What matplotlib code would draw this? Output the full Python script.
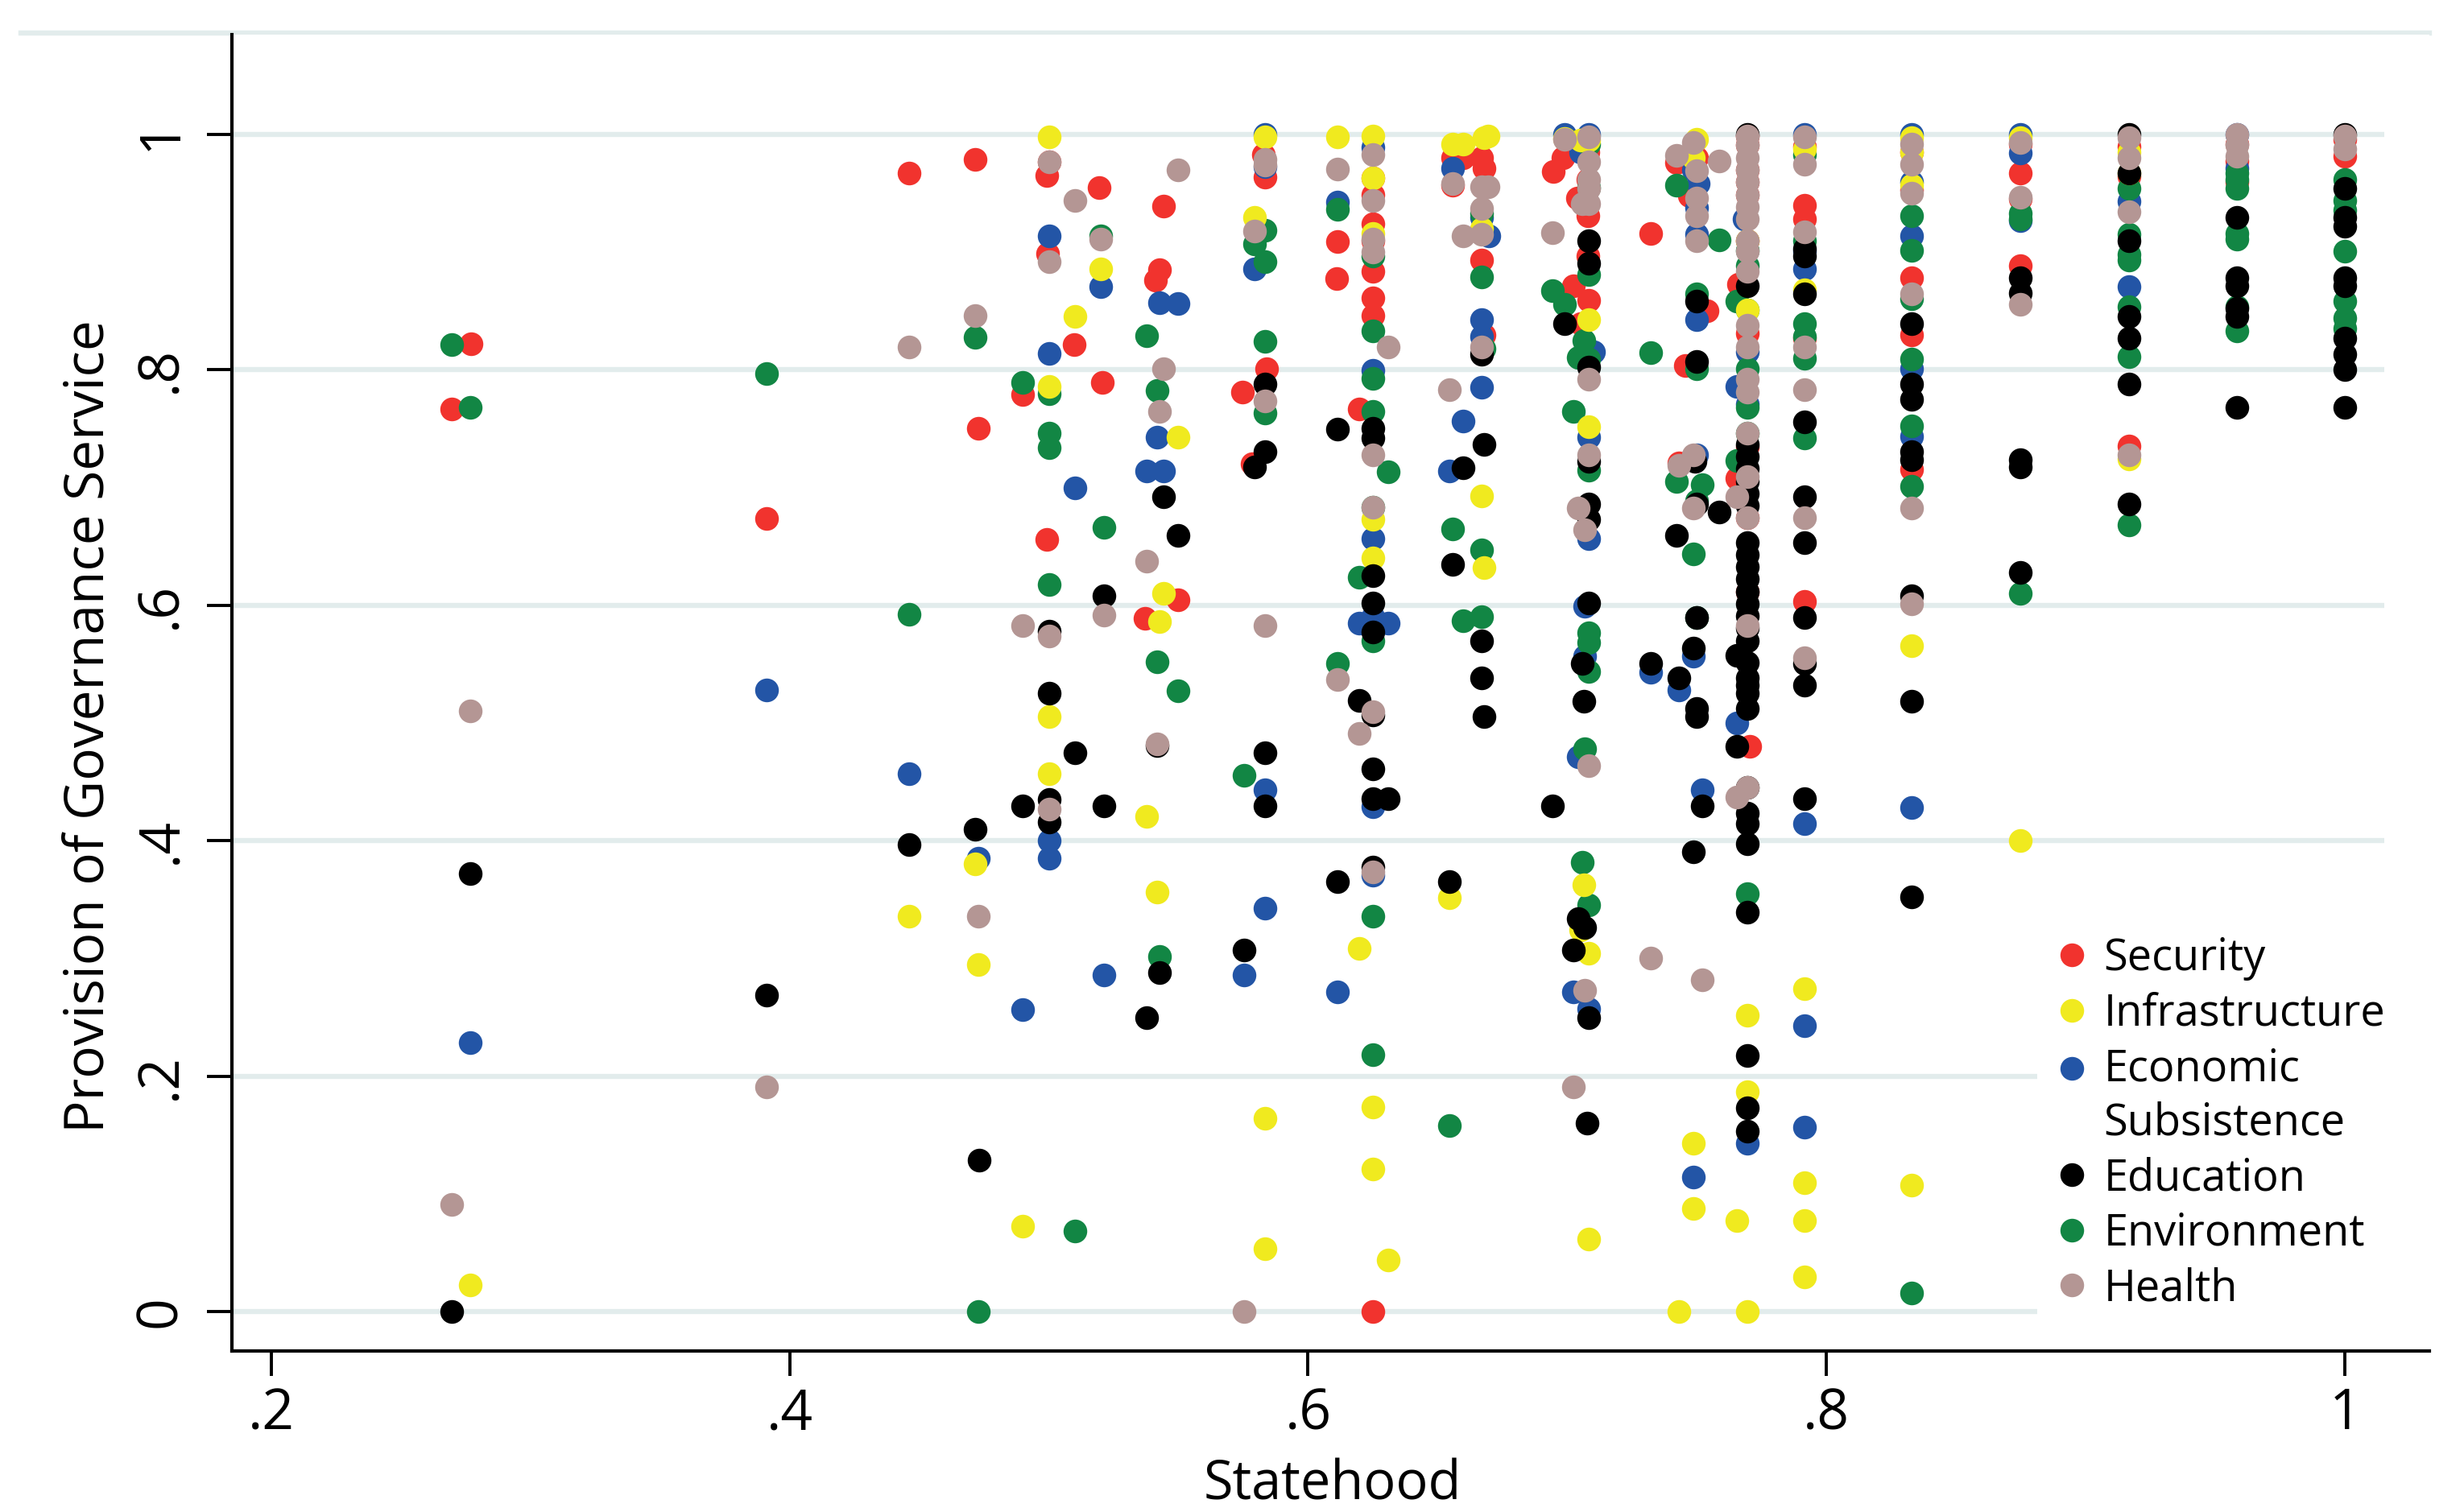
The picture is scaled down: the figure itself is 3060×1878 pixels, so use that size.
import matplotlib
matplotlib.use("Agg")
import matplotlib.pyplot as plt
from matplotlib.legend_handler import HandlerLine2D
from matplotlib.lines import Line2D

plt.rcParams["font.family"] = ["Open Sans", "DejaVu Sans"]

# (statehood, provision)
security = [(.277,.822),(.2696,.767),(.3912,.6735),(.4462,.967),(.4715,.9785),(.4727,.75),(.49,.7788),(.5,.9764),(.4992,.965),
    (.4995,.899),(.4992,.656),(.5097,.8217),(.5195,.9547),(.5207,.789),(.5372,.5888),(.5428,.8853),(.5411,.8762),(.5441,.939),
    (.5497,.6048),(.5747,.7814),(.5785,.7204),(.5829,.983),(.5834,.964),(.5839,.801),(.6114,.9091),(.6111,.8775),(.6196,.7667),
    (.625,.963),(.625,.949),(.625,.924),(.625,.9097),(.625,.884),(.625,.861),(.625,.846),(.625,0),
    (.6557,.98),(.6557,.9568),(.6598,.98),(.6668,.98),(.6679,.971),(.6668,.893),(.6679,.83),
    (.6945,.9686),(.6984,.98),(.7023,.8717),(.7081,.985),(.7081,.962),(.7039,.946),(.7081,.931),(.7081,.8966),(.7084,.859),(.7053,.839),
    (.7322,.9157),(.7421,.9759),(.7499,.98),(.747,.948),(.7539,.85),(.7457,.8037),(.7432,.721),(.7661,.873),(.7654,.7081),
    (.7695,.9987),(.7695,.9908),(.7695,.97),(.7695,.9594),(.7695,.9489),(.7695,.9097),(.7695,.8311),(.7695,.7343),(.7695,.6741),(.7695,.6118),(.7705,.4804),
    (.7916,.99),(.7916,.94),(.7916,.928),(.7916,.827),(.7916,.6035),
    (.8329,.985),(.8329,.9529),(.8329,.8783),(.8329,.8298),(.8329,.7154),
    (.8749,.992),(.8749,.9673),(.8749,.945),(.8749,.8887),(.9166,.9895),(.9166,.9646),(.9166,.7356),
    (.9583,.992),(.9583,.9777),(.9583,.9594),(1,.996),(1,.9817)]

infrastructure = [(.2767,.0226),(.4462,.3357),(.4715,.38),(.4727,.295),(.49,.0725),(.5,.998),(.5,.786),(.5,.5053),(.5,.4566),
    (.51,.8455),(.52,.886),(.5376,.4207),(.5416,.3566),(.5441,.61),(.5428,.5864),(.5497,.7427),(.5794,.9293),(.5834,.998),
    (.5834,.1643),(.5834,.0535),(.6114,.998),(.6196,.3087),
    (.625,.9987),(.625,.963),(.625,.916),(.625,.6728),(.625,.64),(.625,.1735),(.625,.1208),(.631,.0435),
    (.6546,.3514),(.6557,.992),(.6598,.992),(.6679,.9974),(.6693,.9987),(.6668,.92),(.6668,.6932),(.6679,.6322),
    (.6988,.9965),(.7084,.995),(.7053,.995),(.7084,.843),(.7084,.752),(.7053,.3239),(.7063,.3624),(.7084,.3042),(.7084,.0613),
    (.75,.996),(.7485,.98),(.7432,0),(.7486,.1427),(.7486,.0879),(.7655,.077),
    (.7695,.9097),(.7695,.8508),(.7695,.2519),(.7695,.1865),(.7695,0),
    (.7916,.988),(.7916,.8678),(.7916,.2741),(.7916,.1096),(.7916,.0775),(.7916,.0295),
    (.8329,.9974),(.8329,.985),(.8329,.9569),(.8329,.5655),(.8329,.1075),(.8749,.9974),(.8749,.4),
    (.9166,.985),(.9166,.9673),(.9166,.7243)]

economic = [(.2767,.2285),(.3912,.528),(.4462,.4566),(.4727,.3854),(.49,.2566),(.5,.914),(.5,.814),(.5,.3998),(.5,.3849),
    (.51,.6997),(.52,.871),(.5213,.286),(.5376,.7141),(.5416,.7427),(.5428,.8568),(.5441,.7141),(.5497,.8565),(.5794,.8856),
    (.5752,.2859),(.5834,1),(.5834,.9725),(.5834,.443),(.5834,.3427),(.6114,.9424),(.6114,.2715),(.6196,.5851),
    (.625,.989),(.625,.7997),(.625,.6565),(.625,.59),(.625,.4286),(.625,.3705),(.631,.5851),
    (.6557,.971),(.6546,.7141),(.6598,.7565),(.6668,.9293),(.6699,.9136),(.6668,.8429),(.6668,.8285),(.6668,.7853),
    (.6988,1),(.7084,1),(.7053,.985),(.7102,.8154),(.7084,.7427),(.7084,.6563),(.7067,.5995),(.7067,.5569),(.7042,.471),(.7023,.2715),(.7084,.2571),
    (.7322,.5433),(.7432,.5281),(.75,.7277),(.7486,.97),(.7505,.958),(.75,.938),(.75,.915),(.75,.8429),(.7486,.5569),(.752,.443),(.7486,.1143),
    (.7681,.928),(.7655,.7859),(.7655,.4998),(.7695,.8154),(.7695,.771),(.7695,.1427),
    (.7916,1),(.7916,.9005),(.7916,.8856),(.7916,.4142),(.7916,.2427),(.7916,.1565),
    (.8329,1),(.8329,.9594),(.8329,.914),(.8329,.8011),(.8329,.7434),(.8329,.428),
    (.8749,1),(.8749,.9843),(.8749,.9267),(.9166,.9429),(.9166,.8709),(.9583,1),(.9583,.971)]

education = [(.2696,0),(.2767,.372),(.3912,.2688),(.4462,.397),(.4715,.4097),(.473,.1283),(.49,.4294),(.5,.5778),(.5,.5255),(.5,.435),(.5,.416),
    (.51,.4744),(.5213,.6084),(.5213,.4294),(.5376,.2498),(.5416,.481),(.5441,.6919),(.5428,.288),(.5497,.6597),(.5752,.3074),(.5794,.7173),
    (.5834,.7304),(.5834,.788),(.5834,.4744),(.5834,.4294),(.6114,.7495),(.6114,.365),(.6196,.5189),
    (.625,.75),(.625,.742),(.625,.625),(.625,.6022),(.625,.5773),(.625,.5071),(.625,.4613),(.625,.4359),(.625,.3775),(.631,.4359),
    (.6546,.365),(.6557,.6348),(.6598,.717),(.6668,.8136),(.668,.7366),(.6668,.57),(.6668,.5385),(.6679,.5058),
    (.6942,.4294),(.6988,.8395),(.7084,.9097),(.7084,.8908),(.7084,.8023),(.7084,.7225),(.7084,.6858),(.7084,.6728),(.7084,.6022),(.7058,.5508),(.7063,.5184),
    (.7042,.3336),(.7067,.3265),(.7023,.3074),(.7084,.2498),(.7078,.1599),
    (.7322,.5508),(.7421,.6597),(.7432,.5385),(.7486,.5634),(.75,.8586),(.75,.807),(.7492,.7225),(.75,.6858),(.7587,.6793),(.75,.5896),(.75,.5124),(.75,.5058),(.752,.4294),(.7486,.3906),
    (.7655,.5574),(.7655,.4804),
    (.7695,.9997),(.7695,.8717),(.7695,.7369),(.7695,.7264),(.7695,.716),(.7695,.7055),(.7695,.695),(.7695,.6846),(.7695,.6531),(.7695,.6427),(.7695,.6328),
    (.7695,.6223),(.7695,.6118),(.7695,.6014),(.7695,.5909),(.7695,.5804),(.7695,.57),(.7695,.5516),(.7695,.5385),(.7695,.532),(.7695,.5254),(.7695,.5124),
    (.7695,.4456),(.7695,.4234),(.7695,.4142),(.7695,.3972),(.7695,.3396),(.7695,.2173),(.7695,.173),(.7695,.1534),
    (.7916,.903),(.7916,.8966),(.7916,.8646),(.7916,.7557),(.7916,.6924),(.7916,.6531),(.7916,.5896),(.7916,.5503),(.7916,.532),(.7916,.4357),
    (.8329,.839),(.8329,.7879),(.8329,.7749),(.8329,.7304),(.8329,.7238),(.8329,.6084),(.8329,.5184),(.8329,.3522),
    (.8749,.8783),(.8749,.8652),(.8749,.7238),(.8749,.7173),(.8749,.628),
    (.9166,.9999),(.9166,.9673),(.9166,.9097),(.9166,.8455),(.9166,.8272),(.9166,.7879),(.9166,.6858),
    (.9583,.9293),(.9583,.8783),(.9583,.8717),(.9583,.8521),(.9583,.8455),(.9583,.7683),
    (1,1),(1,.9542),(1,.9293),(1,.9222),(1,.8783),(1,.8717),(1,.8272),(1,.8133),(1,.8005),(1,.7683)]

environment = [(.2696,.8218),(.2767,.768),(.3912,.797),(.4462,.5922),(.4715,.8277),(.4727,0),(.49,.7893),(.5,.78),(.5,.746),(.5,.734),(.5,.6179),
    (.51,.0683),(.52,.9136),(.5213,.666),(.5376,.8293),(.5416,.7827),(.5416,.5522),(.5428,.3016),(.5497,.5275),(.5752,.4553),(.5794,.907),
    (.5834,.9188),(.5834,.8919),(.5834,.824),(.5834,.7636),(.6114,.9364),(.6114,.5503),(.6196,.6236),
    (.625,.897),(.625,.833),(.625,.793),(.625,.7649),(.625,.683),(.625,.57),(.625,.3357),(.625,.2183),(.631,.7133),
    (.6557,.6649),(.6546,.1578),(.6598,.587),(.6668,.933),(.6668,.8788),(.6679,.818),(.6668,.647),(.6668,.5904),
    (.6942,.867),(.6988,.856),(.7023,.7649),(.7084,.992),(.7084,.955),(.7084,.8808),(.7063,.8246),(.7042,.8107),(.7084,.8089),(.7084,.7146),
    (.7084,.5765),(.7084,.5686),(.7084,.5438),(.7067,.4783),(.7058,.3815),(.7084,.3453),
    (.7322,.8146),(.7421,.9568),(.7421,.7055),(.75,.8646),(.75,.801),(.752,.7023),(.75,.6885),(.7486,.6434),(.75,.5896),(.7587,.9105),
    (.7655,.8586),(.7655,.7233),(.7695,.9018),(.7695,.8887),(.7695,.8508),(.7695,.801),(.7695,.7683),(.7695,.7461),(.7695,.3553),
    (.7916,.983),(.7916,.9097),(.7916,.839),(.7916,.8285),(.7916,.81),(.7916,.7421),
    (.8329,.9306),(.8329,.9013),(.8329,.8605),(.8329,.8089),(.8329,.7526),(.8329,.7008),(.8329,.0156),
    (.8749,.933),(.8749,.928),(.8749,.61),
    (.9166,.9542),(.9166,.9149),(.9166,.898),(.9166,.8932),(.9166,.8534),(.9166,.811),(.9166,.6683),
    (.9583,.9673),(.9583,.962),(.9583,.9542),(.9583,.9162),(.9583,.911),(.9583,.8534),(.9583,.833),
    (1,.962),(1,.9437),(1,.9359),(1,.9005),(1,.8581),(1,.8442),(1,.835)]

health = [(.2767,.51),(.2696,.091),(.3912,.191),(.4462,.8194),(.4715,.8463),(.4727,.336),(.49,.5825),(.5,.9764),(.5,.892),(.5,.5739),(.5,.427),
    (.51,.9437),(.52,.911),(.5213,.5914),(.5376,.6374),(.5416,.4823),(.5428,.7646),(.5441,.801),(.5497,.9699),(.5752,0),(.5794,.9181),
    (.5834,.979),(.5834,.9738),(.5834,.7735),(.5834,.5825),(.6114,.9704),(.6114,.5372),(.6196,.4914),
    (.625,.983),(.625,.9437),(.625,.911),(.625,.9),(.625,.728),(.625,.683),(.625,.5097),(.625,.3736),(.631,.8194),
    (.6546,.7832),(.6557,.958),(.6598,.9136),(.6668,.9555),(.6693,.9555),(.6668,.937),(.6668,.915),(.6668,.8194),
    (.6942,.9168),(.6988,.996),(.7084,.998),(.7084,.977),(.7084,.962),(.7084,.954),(.7084,.941),(.7058,.941),(.7084,.7919),(.7084,.728),
    (.7042,.6825),(.7067,.6644),(.7084,.4639),(.7067,.2728),(.7023,.191),
    (.7322,.3003),(.7421,.982),(.7486,.9934),(.75,.969),(.75,.946),(.75,.931),(.75,.91),(.7587,.9777),(.7486,.7277),(.7432,.719),(.7486,.6825),(.752,.282),
    (.7655,.6924),(.7655,.4372),
    (.7695,.9987),(.7695,.9908),(.7695,.9804),(.7695,.97),(.7695,.9594),(.7695,.9489),(.7695,.9385),(.7695,.928),(.7695,.9097),(.7695,.9005),(.7695,.8835),
    (.7695,.8377),(.7695,.8194),(.7695,.7919),(.7695,.7814),(.7695,.7461),(.7695,.7094),(.7695,.6741),(.7695,.5829),(.7695,.4456),
    (.7916,.998),(.7916,.975),(.7916,.9175),(.7916,.8194),(.7916,.7832),(.7916,.6741),(.7916,.5556),
    (.8329,.992),(.8329,.975),(.8329,.9503),(.8329,.8646),(.8329,.6825),(.8329,.6014),
    (.8749,.9934),(.8749,.9468),(.8749,.856),(.9166,.9974),(.9166,.98),(.9166,.9345),(.9166,.7277),
    (.9583,1),(.9583,.9908),(.9583,.9817),(1,.9987),(1,.988)]

x_ticks = [.2, .4, .6, .8, 1]
x_labels = [".2", ".4", ".6", ".8", "1"]
y_ticks = [0, .2, .4, .6, .8, 1]
y_labels = ["0", ".2", ".4", ".6", ".8", "1"]

W, H = 3060, 1878
fig = plt.figure(figsize=(W / 200, H / 200), dpi=200)
ax = fig.add_axes([288 / W, 1 - 1678 / H, (3017 - 288) / W, (1678 - 43) / H])
ax.set_xlim(.1848, 1.0326)
ax.set_ylim(-.0335, 1.0848)

# stacking order differs from the legend order
series = [
    ("Security", security, "#F1332E", 3),
    ("Infrastructure", infrastructure, "#F0EA1F", 6),
    ("Economic\nSubsistence", economic, "#2355A6", 4),
    ("Education", education, "#000000", 7),
    ("Environment", environment, "#128644", 5),
    ("Health", health, "#B49694", 8),
]

ax.hlines(y_ticks, .1848, 1.0152, color="#E2ECEC", lw=2.3, zorder=1)
fig.add_artist(Line2D([26 / W, 3017 / W], [1 - 41 / H, 1 - 41 / H], color="#E2ECEC", lw=2.3, zorder=0))

handles = []
for name, pts, color, z in series:
    xs = [p[0] for p in pts]
    ys = [p[1] for p in pts]
    line, = ax.plot(xs, ys, "o", ms=10.6, mew=0, color=color, label=name, zorder=z, clip_on=False)
    handles.append(line)

ax.spines["top"].set_visible(False)
ax.spines["right"].set_visible(False)
ax.spines["left"].set_linewidth(1.5)
ax.spines["bottom"].set_linewidth(1.5)

ax.set_xticks(x_ticks, x_labels)
ax.set_yticks(y_ticks, y_labels)
ax.tick_params(axis="both", length=11, width=1.4, labelsize=25)
ax.tick_params(axis="x", pad=5)
ax.tick_params(axis="y", pad=8)
for t in ax.get_yticklabels():
    t.set_rotation(90)
    t.set_va("center")

fig.text(1655 / W, 1 - 1845 / H, "Statehood", fontsize=24, ha="center", va="center")
fig.text(111 / W, 1 - 902 / H, "Provision of Governance Service", fontsize=24.3,
         rotation=90, ha="center", va="center")


class FirstLineHandler(HandlerLine2D):
    # two-line label: keep the dot beside the first line
    def create_artists(self, legend, orig_handle, xdescent, ydescent, width, height, fontsize, trans):
        arts = super().create_artists(legend, orig_handle, xdescent, ydescent, width, height, fontsize, trans)
        for a in arts:
            a.set_ydata([y + 13 for y in a.get_ydata()])
        return arts


leg = ax.legend(handles=handles, loc="lower left", bbox_to_anchor=(2530 / W, 1 - 1650 / H),
                bbox_transform=fig.transFigure, frameon=True, framealpha=1, facecolor="white", edgecolor="none",
                fontsize=19.5, numpoints=1, labelspacing=.25, handlelength=.8, handletextpad=.32,
                borderpad=.4, borderaxespad=0, fancybox=False,
                handler_map={handles[2]: FirstLineHandler()})
leg.set_zorder(10)
leg.get_frame().set_linewidth(0)
for t in leg.get_texts():
    t.set_linespacing(1.3)

fig.savefig("out.png", dpi=200)
